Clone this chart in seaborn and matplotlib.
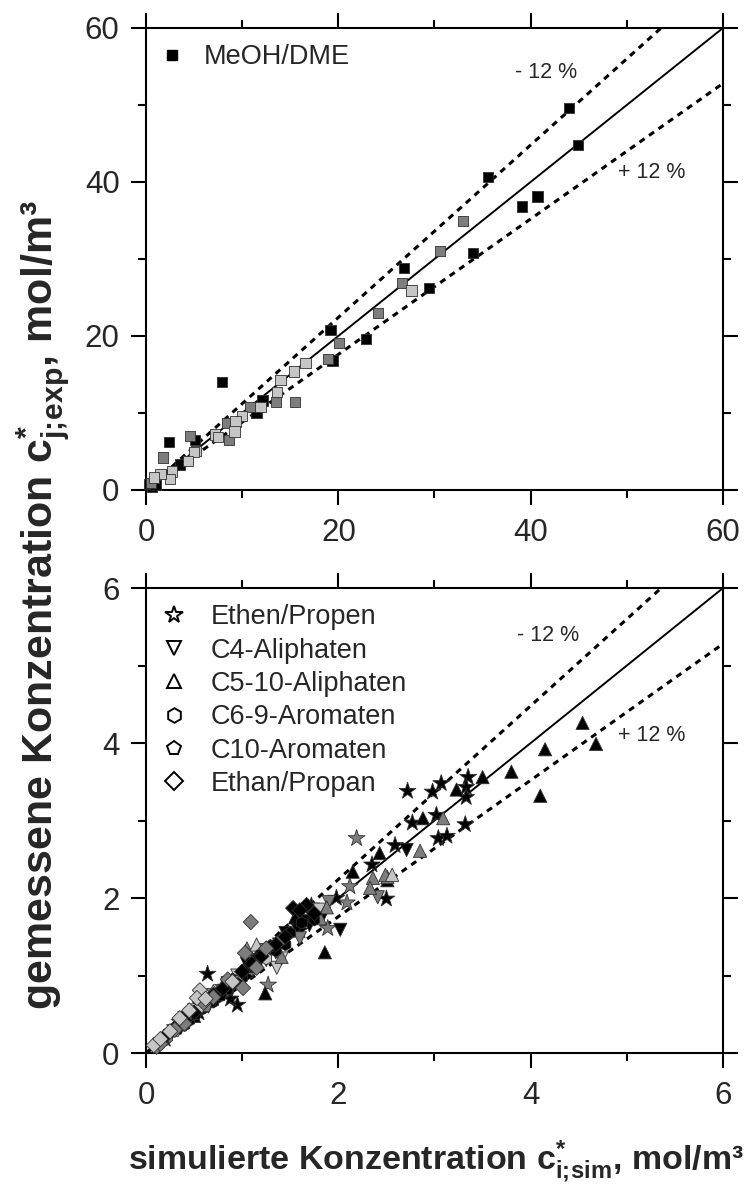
import numpy as np
import pandas as pd
import matplotlib
matplotlib.use("Agg")
import matplotlib.pyplot as plt
from matplotlib.lines import Line2D
from matplotlib.ticker import MultipleLocator
import seaborn as sns

# ---------------- data ----------------
# top panel: MeOH/DME
meoh_black_x = [35.6, 44.0, 44.9, 39.1, 40.7, 34.0, 29.4, 26.8, 19.2, 19.4, 22.9, 7.9, 12.1, 11.5, 5.1, 2.4, 0.6, 0.3, 1.0, 3.5]
meoh_black_y = [40.6, 49.6, 44.8, 36.8, 38.1, 30.8, 26.2, 28.8, 20.8, 16.8, 19.6, 14.0, 11.6, 10.0, 6.5, 6.2, 0.4, 0.8, 0.6, 3.3]
meoh_dark_x = [30.6, 33.0, 26.6, 24.1, 20.1, 18.9, 15.5, 13.5, 10.8, 8.4, 8.6, 4.6, 1.8, 0.5]
meoh_dark_y = [31.0, 34.9, 26.9, 23.0, 19.1, 17.0, 11.4, 11.4, 10.8, 8.7, 6.5, 7.0, 4.2, 0.9]
meoh_light_x = [27.6, 16.6, 15.4, 14.0, 13.6, 11.9, 10.0, 9.3, 9.2, 7.2, 7.5, 5.2, 5.0, 4.4, 2.7, 2.5, 1.5, 0.8]
meoh_light_y = [25.9, 16.5, 15.4, 14.3, 12.7, 10.8, 9.6, 8.9, 7.6, 7.2, 6.9, 5.1, 4.9, 3.8, 2.4, 1.4, 2.1, 1.6]

# bottom panel
categories = ["Ethen/Propen", "C4-Aliphaten", "C5-10-Aliphaten", "C6-9-Aromaten", "C10-Aromaten", "Ethan/Propan"]

ethen_black_x = [2.72, 2.98, 3.07, 3.35, 3.33, 3.33, 2.77, 3.02, 3.32, 3.04, 3.13, 2.59, 2.35, 2.50, 1.98, 0.64, 0.95, 0.88, 1.15, 0.45, 0.30, 0.55, 0.75, 1.40, 1.60, 0.20, 1.72]
ethen_black_y = [3.38, 3.37, 3.48, 3.56, 3.43, 3.30, 2.97, 3.07, 2.95, 2.77, 2.80, 2.68, 2.43, 1.99, 2.00, 1.02, 0.62, 0.70, 1.25, 0.50, 0.33, 0.52, 0.78, 1.45, 1.58, 0.18, 1.90]
ethen_dark_x = [2.19, 2.12, 2.09, 1.89, 1.27, 0.98, 0.60]
ethen_dark_y = [2.77, 2.15, 1.94, 1.61, 0.88, 0.95, 0.62]
ethen_light_x = [0.35, 0.80]
ethen_light_y = [0.40, 0.85]

c4_black_x = [2.71, 2.02, 1.57, 1.45, 1.05, 0.85, 0.65, 0.40, 1.25, 1.70, 0.25, 0.55, 0.90, 1.10, 1.35, 1.65, 1.85]
c4_black_y = [2.62, 1.59, 1.61, 1.55, 1.15, 0.90, 0.60, 0.45, 1.20, 1.65, 0.22, 0.58, 0.86, 1.05, 1.30, 1.70, 1.80]
c4_dark_x = [2.41, 1.60, 1.20, 0.70, 1.90]
c4_dark_y = [2.01, 1.48, 1.33, 0.75, 1.95]
c4_light_x = [1.36, 1.41, 0.95, 0.50, 1.80]
c4_light_y = [1.10, 1.22, 1.00, 0.55, 1.85]

c5_black_x = [4.54, 4.68, 4.15, 3.80, 4.10, 3.50, 3.23, 2.88, 2.43, 2.15, 2.51, 1.86, 1.24, 1.55, 1.10, 0.80, 0.50]
c5_black_y = [4.26, 3.99, 3.92, 3.63, 3.32, 3.56, 3.40, 3.03, 2.58, 2.34, 2.23, 1.30, 0.77, 1.75, 1.18, 0.88, 0.48]
c5_dark_x = [3.09, 2.85, 2.36, 2.51, 2.33, 1.88, 1.81, 1.41, 1.05, 0.60, 2.49]
c5_dark_y = [3.03, 2.61, 2.26, 2.27, 2.13, 1.88, 1.74, 1.24, 1.35, 0.65, 2.30]
c5_light_x = [2.56, 1.15, 0.70]
c5_light_y = [2.30, 1.40, 0.80]

c69_black_x = [0.15, 0.30, 0.45, 0.60, 0.75, 0.90, 1.05, 1.20, 1.35, 1.50, 0.20, 0.40, 0.55, 0.70, 0.85, 1.00, 1.15, 1.30, 1.45, 1.62, 1.75]
c69_black_y = [0.14, 0.32, 0.42, 0.58, 0.72, 0.95, 1.02, 1.28, 1.32, 1.55, 0.21, 0.36, 0.55, 0.66, 0.80, 0.97, 1.12, 1.38, 1.40, 1.68, 1.72]
c69_dark_x = [0.22, 0.50, 0.80, 1.10, 1.40]
c69_dark_y = [0.20, 0.53, 0.78, 1.08, 1.45]
c69_light_x = [0.35, 0.65, 0.95, 1.25]
c69_light_y = [0.38, 0.70, 0.92, 1.22]

c10_black_x = [0.12, 0.25, 0.38, 0.52, 0.68, 0.85, 0.18, 0.33, 0.47, 0.60, 0.78, 0.95, 1.08]
c10_black_y = [0.11, 0.27, 0.35, 0.50, 0.66, 0.82, 0.16, 0.31, 0.48, 0.63, 0.74, 0.90, 1.10]
c10_dark_x = [0.18, 0.42, 0.62, 0.78]
c10_dark_y = [0.19, 0.44, 0.60, 0.82]
c10_light_x = [0.30, 0.55]
c10_light_y = [0.28, 0.58]

ethan_black_x = [1.53, 1.67, 1.60, 1.20, 1.00, 0.70, 0.40, 1.35, 0.20, 0.50, 0.80, 1.10, 1.45, 1.75, 0.33]
ethan_black_y = [1.87, 1.91, 1.84, 1.25, 1.05, 0.75, 0.42, 1.40, 0.22, 0.52, 0.83, 1.15, 1.50, 1.80, 0.36]
ethan_dark_x = [1.09, 1.01, 1.03, 0.11, 0.60, 0.85, 1.15, 0.30, 0.15, 0.70, 1.25, 0.40]
ethan_dark_y = [1.69, 0.84, 1.29, 0.08, 0.65, 0.95, 1.10, 0.30, 0.12, 0.72, 1.35, 0.38]
ethan_light_x = [0.56, 0.53, 0.45, 0.25, 0.90, 0.08, 0.35, 0.62, 0.15]
ethan_light_y = [0.81, 0.71, 0.55, 0.28, 0.92, 0.10, 0.45, 0.70, 0.18]

deviation = 0.12
top_ticks = [0, 20, 40, 60]
bottom_ticks = [0, 2, 4, 6]

# ---------------- style ----------------
sns.set_style("ticks")
plt.rcParams['font.family'] = ['Liberation Sans', 'DejaVu Sans']
plt.rcParams['mathtext.fontset'] = 'custom'
plt.rcParams['mathtext.rm'] = 'Liberation Sans'
plt.rcParams['mathtext.bf'] = 'Liberation Sans:bold'
plt.rcParams['mathtext.it'] = 'Liberation Sans:italic'

shade_colors = {"black": "#000000", "dark": "#7d7d7d", "light": "#c6c6c6"}

fig = plt.figure(figsize=(7.51, 11.95), dpi=100)
ax1 = fig.add_axes([0.1944, 0.5900, 0.7683, 0.3866])
ax2 = fig.add_axes([0.1944, 0.1188, 0.7683, 0.3891])


def build(cat, parts):
    rows = []
    for shade, xs, ys in parts:
        for x, y in zip(xs, ys):
            rows.append({"cat": cat, "shade": shade, "x": x, "y": y})
    return rows


top_df = pd.DataFrame(build("MeOH/DME", [("black", meoh_black_x, meoh_black_y),
                                         ("dark", meoh_dark_x, meoh_dark_y),
                                         ("light", meoh_light_x, meoh_light_y)]))

bottom_rows = []
bottom_rows += build("Ethen/Propen", [("black", ethen_black_x, ethen_black_y), ("dark", ethen_dark_x, ethen_dark_y), ("light", ethen_light_x, ethen_light_y)])
bottom_rows += build("C4-Aliphaten", [("black", c4_black_x, c4_black_y), ("dark", c4_dark_x, c4_dark_y), ("light", c4_light_x, c4_light_y)])
bottom_rows += build("C5-10-Aliphaten", [("black", c5_black_x, c5_black_y), ("dark", c5_dark_x, c5_dark_y), ("light", c5_light_x, c5_light_y)])
bottom_rows += build("C6-9-Aromaten", [("black", c69_black_x, c69_black_y), ("dark", c69_dark_x, c69_dark_y), ("light", c69_light_x, c69_light_y)])
bottom_rows += build("C10-Aromaten", [("black", c10_black_x, c10_black_y), ("dark", c10_dark_x, c10_dark_y), ("light", c10_light_x, c10_light_y)])
bottom_rows += build("Ethan/Propan", [("black", ethan_black_x, ethan_black_y), ("dark", ethan_dark_x, ethan_dark_y), ("light", ethan_light_x, ethan_light_y)])
bottom_df = pd.DataFrame(bottom_rows)

cat_markers = {"Ethen/Propen": "*", "C4-Aliphaten": "v", "C5-10-Aliphaten": "^",
               "C6-9-Aromaten": "h", "C10-Aromaten": "p", "Ethan/Propan": "D"}
cat_sizes = {"Ethen/Propen": 160, "C4-Aliphaten": 90, "C5-10-Aliphaten": 90,
             "C6-9-Aromaten": 80, "C10-Aromaten": 80, "Ethan/Propan": 60}


def ref_lines(ax, lim):
    xs = np.array([0, lim])
    ax.plot(xs, xs, color="black", lw=1.4, zorder=1)
    ax.plot(xs, xs * (1 + deviation), color="black", lw=2.2, ls=(0, (2.0, 1.8)), zorder=1)
    ax.plot(xs, xs * (1 - deviation), color="black", lw=2.2, ls=(0, (2.0, 1.8)), zorder=1)


def style_axes(ax, ticks, minor):
    ax.set_xlim(ticks[0], ticks[-1])
    ax.set_ylim(ticks[0], ticks[-1])
    ax.set_xticks(ticks)
    ax.set_yticks(ticks)
    ax.xaxis.set_minor_locator(MultipleLocator(minor))
    ax.yaxis.set_minor_locator(MultipleLocator(minor))
    ax.tick_params(which="both", direction="out", top=True, right=True,
                   labeltop=False, labelright=False, width=1.5, color="black")
    ax.tick_params(which="major", length=11, labelsize=22.5)
    ax.tick_params(which="minor", length=5.5)
    ax.tick_params(axis="x", which="major", pad=9)
    ax.tick_params(axis="y", which="major", pad=8)
    for sp in ax.spines.values():
        sp.set_linewidth(1.5)
        sp.set_color("black")
        sp.set_visible(True)
    ax.set_xlabel("")
    ax.set_ylabel("")


# top panel
ref_lines(ax1, 60)
sns.scatterplot(data=top_df, x="x", y="y", hue="shade", palette=shade_colors,
                marker="s", s=55, edgecolor="#303030", linewidth=0.6,
                legend=False, ax=ax1, zorder=3, clip_on=False)
style_axes(ax1, top_ticks, 10)
ax1.text(38.4, 54.2, "- 12 %", fontsize=15.5, va="center", ha="left")
ax1.text(49.1, 41.2, "+ 12 %", fontsize=15.5, va="center", ha="left")
ax1.legend(handles=[Line2D([], [], ls="none", marker="s", ms=7.5, mfc="black", mec="black")],
           labels=["MeOH/DME"], loc="upper left", frameon=False, fontsize=19.5,
           handletextpad=0.85, borderaxespad=0.3, handlelength=0.7, borderpad=0.3)

# bottom panel
ref_lines(ax2, 6)
for cat in categories:
    sub = bottom_df[bottom_df["cat"] == cat]
    sns.scatterplot(data=sub, x="x", y="y", hue="shade", palette=shade_colors,
                    marker=cat_markers[cat], s=cat_sizes[cat], edgecolor="#303030",
                    linewidth=0.6, legend=False, ax=ax2, zorder=3, clip_on=False)
style_axes(ax2, bottom_ticks, 1)
ax2.text(3.86, 5.39, "- 12 %", fontsize=15.5, va="center", ha="left")
ax2.text(4.91, 4.10, "+ 12 %", fontsize=15.5, va="center", ha="left")
leg_ms = {"Ethen/Propen": 13, "C4-Aliphaten": 10.5, "C5-10-Aliphaten": 10.5,
          "C6-9-Aromaten": 10.5, "C10-Aromaten": 10.5, "Ethan/Propan": 9}
handles = [Line2D([], [], ls="none", marker=cat_markers[c], ms=leg_ms[c], mfc="white",
                  mec="black", mew=1.4) for c in categories]
ax2.legend(handles=handles, labels=categories, loc="upper left", frameon=False,
           fontsize=19.5, handletextpad=0.9, labelspacing=0.27, borderaxespad=0.3,
           handlelength=0.9, borderpad=0.3)

# axis labels
fig.text(0.057, 0.494, r"gemessene Konzentration $\mathbf{c}^{\mathbf{*}}_{\mathbf{j;\!exp}}$, mol/m³",
         rotation=90, ha="center", va="center", fontsize=31, fontweight="bold")
fig.text(0.580, 0.028, r"simulierte Konzentration $\mathbf{c}^{\mathbf{*}}_{\mathbf{i;\!sim}}$, mol/m³",
         ha="center", va="center", fontsize=24.5, fontweight="bold")

fig.savefig("out.png", dpi=100)
